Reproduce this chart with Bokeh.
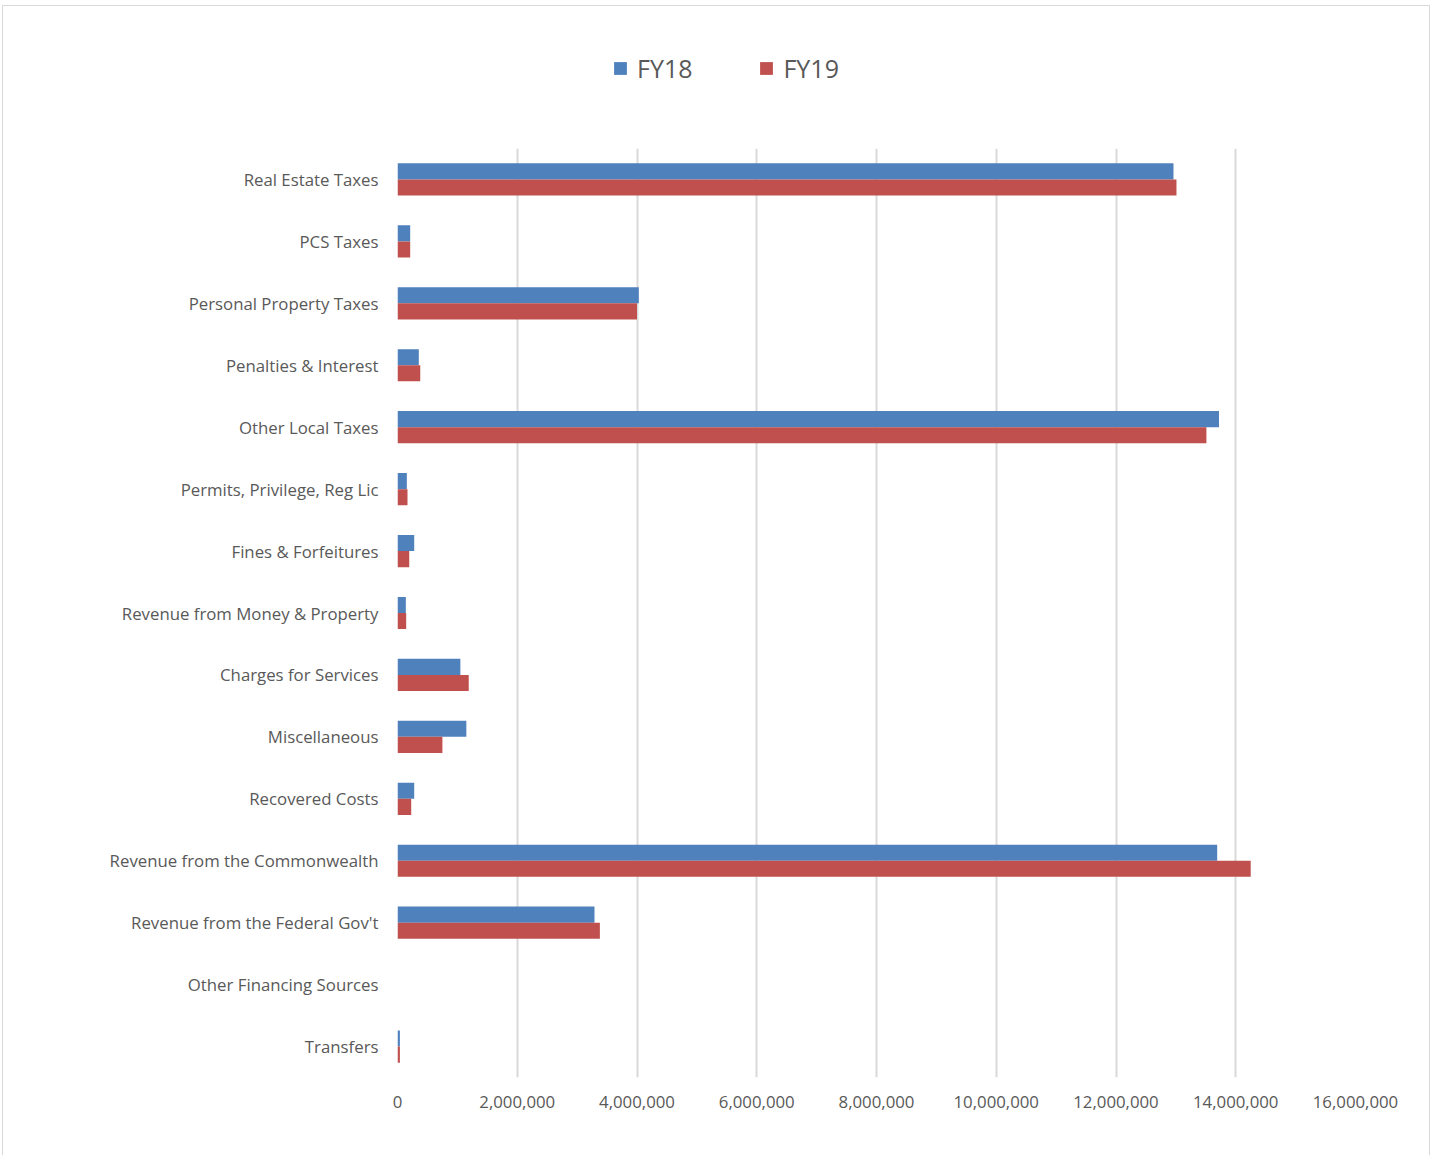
from bokeh.plotting import figure
from bokeh.models import (ColumnDataSource, FactorRange, Range1d, FixedTicker,
                          NumeralTickFormatter, Legend, LegendItem)
from bokeh.layouts import column
from bokeh.transform import dodge
from bokeh.embed import file_html
from bokeh.resources import INLINE

categories = ["Real Estate Taxes", "PCS Taxes", "Personal Property Taxes",
              "Penalties & Interest", "Other Local Taxes", "Permits, Privilege, Reg Lic",
              "Fines & Forfeitures", "Revenue from Money & Property", "Charges for Services",
              "Miscellaneous", "Recovered Costs", "Revenue from the Commonwealth",
              "Revenue from the Federal Gov't", "Other Financing Sources", "Transfers"]
fy18 = [12960000, 212000, 4030000, 356000, 13720000, 156000, 279000, 139000,
        1050000, 1150000, 279000, 13690000, 3290000, 0, 40000]
fy19 = [13010000, 212000, 4000000, 380000, 13510000, 167000, 196000, 145000,
        1190000, 750000, 229000, 14250000, 3380000, 0, 40000]
series_names = ["FY18", "FY19"]
x_ticks = [0, 2000000, 4000000, 6000000, 8000000, 10000000, 12000000, 14000000, 16000000]

BLUE = "#4f81bd"
RED = "#c0504d"
TXT = "#595959"
FONT = "Open Sans"

src = ColumnDataSource(dict(cat=categories, fy18=fy18, fy19=fy19))

# ---- main chart ----
p = figure(width=1426, height=1007, output_backend="svg", toolbar_location=None,
           y_range=FactorRange(factors=list(reversed(categories)), range_padding=0),
           x_range=Range1d(0, 16000000),
           min_border_left=394, min_border_right=74, min_border_top=0, min_border_bottom=78)

p.hbar(y=dodge("cat", 0.13, range=p.y_range), right="fy18", height=0.26,
       source=src, fill_color=BLUE, line_color=None)
p.hbar(y=dodge("cat", -0.13, range=p.y_range), right="fy19", height=0.26,
       source=src, fill_color=RED, line_color=None)

p.outline_line_color = None
p.background_fill_color = "white"
p.border_fill_color = "white"
p.ygrid.grid_line_color = None
p.xgrid.grid_line_color = "#d9d9d9"
p.xgrid.grid_line_width = 2
p.xaxis.ticker = FixedTicker(ticks=x_ticks)
p.xaxis.formatter = NumeralTickFormatter(format="0,0")

for ax in (p.xaxis[0], p.yaxis[0]):
    ax.axis_line_color = None
    ax.major_tick_line_color = None
    ax.minor_tick_line_color = None
    ax.major_label_text_color = TXT
    ax.major_label_text_font = FONT
    ax.major_label_text_font_size = "16.8px"
p.yaxis.major_label_standoff = 13
p.xaxis.major_label_standoff = 12

# ---- legend strip ----
lg = figure(width=1426, height=142, output_backend="svg", toolbar_location=None,
            x_range=Range1d(0, 1), y_range=Range1d(0, 1),
            min_border_left=0, min_border_right=0, min_border_top=0, min_border_bottom=0)
lg.axis.visible = False
lg.grid.visible = False
lg.outline_line_color = None
lg.border_fill_color = "white"
r1 = lg.quad(left=[0], right=[1], bottom=[0], top=[1], fill_color=BLUE,
             line_color=None, visible=False)
r2 = lg.quad(left=[0], right=[1], bottom=[0], top=[1], fill_color=RED,
             line_color=None, visible=False)
legend = Legend(items=[LegendItem(label=series_names[0], renderers=[r1]),
                       LegendItem(label=series_names[1], renderers=[r2])],
                orientation="horizontal", location=(215, 63),
                glyph_width=16, glyph_height=16, label_standoff=9, spacing=66,
                label_text_font=FONT, label_text_font_size="25px", label_text_color=TXT,
                border_line_color=None, background_fill_alpha=0, padding=0, margin=0)
lg.add_layout(legend, "center")

layout = column(lg, p, spacing=0)
layout.margin = (5, 0, 0, 2)
layout.styles = {"border": "1px solid #d9d9d9"}

open("out.html", "w").write(file_html(layout, INLINE))
